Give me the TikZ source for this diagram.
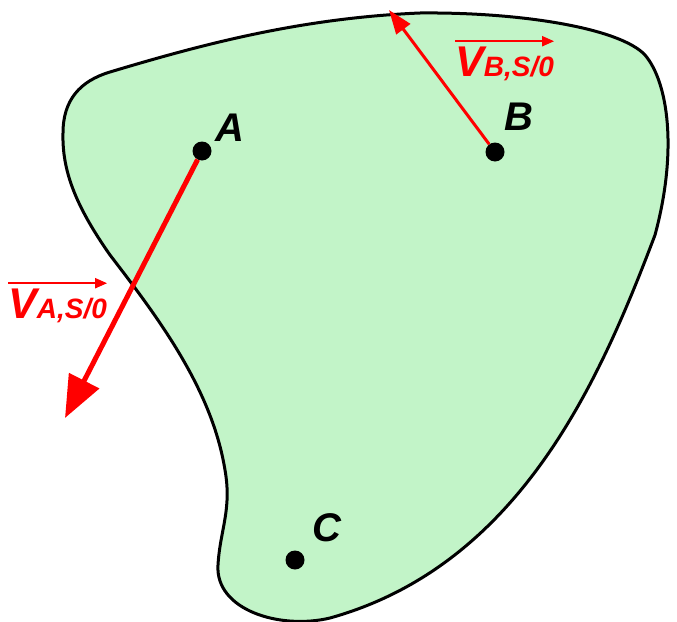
\documentclass[tikz,border=0pt]{standalone}
\usepackage{fontspec}
\setmainfont{Liberation Sans}
\usetikzlibrary{arrows.meta}
\definecolor{bodygreen}{RGB}{194,244,200}
\definecolor{velred}{RGB}{255,0,0}
\begin{document}
\begin{tikzpicture}[
x=1pt,y=-1pt,
dot/.style={circle,fill=black,inner sep=0pt,minimum size=19pt},
pointlabel/.style={font=\fontsize{40}{40}\selectfont\bfseries\itshape,inner sep=0pt},
vellabel/.style={font=\fontsize{43}{43}\selectfont\bfseries\itshape,text=velred,inner sep=0pt,anchor=base west},
vecA/.style={draw=velred,line width=5pt,-{Triangle[length=42pt,width=33pt]}},
vecB/.style={draw=velred,line width=3pt,-{Triangle[length=24pt,width=17pt]}},
overarrow/.style={draw=velred,line width=2pt,-{Triangle[length=12pt,width=10pt]}}
]
\useasboundingbox (0,0) rectangle (677,621);
% body S
\draw[line width=3pt,fill=bodygreen] (63,133)
  .. controls (63,100) and (80,81) .. (110,72)
  .. controls (200,45) and (300,18) .. (420,13)
  .. controls (520,12) and (620,28) .. (645,55)
  .. controls (668,82) and (678,150) .. (655,235)
  .. controls (600,380) and (520,565) .. (330,618)
  .. controls (280,630) and (215,610) .. (218,565)
  .. controls (220,530) and (232,510) .. (225,470)
  .. controls (212,390) and (160,320) .. (110,255)
  .. controls (75,205) and (62,170) .. cycle;
% points
\node[dot] (A) at (202,151) {};
\node[dot] (B) at (495,152) {};
\node[dot] (C) at (295,560) {};
\node[pointlabel] (labA) at (230,128) {A};
\node[pointlabel] (labB) at (519,117) {B};
\node[pointlabel] (labC) at (327,528) {C};
% velocities
\coordinate (tipA) at (65,418);
\coordinate (tipB) at (389,10);
\draw[vecA] (A) -- (tipA);
\draw[vecB] (B) -- (tipB);
\node[vellabel] (velA) at (8,318) {V{\fontsize{28}{28}\selectfont A,S/0}};
\node[vellabel] (velB) at (455,76) {V{\fontsize{28}{28}\selectfont B,S/0}};
\draw[overarrow] ([yshift=5pt]velA.north west) -- ([yshift=5pt]velA.north east);
\draw[overarrow] ([yshift=5pt]velB.north west) -- ([yshift=5pt]velB.north east);
\end{tikzpicture}
\end{document}
